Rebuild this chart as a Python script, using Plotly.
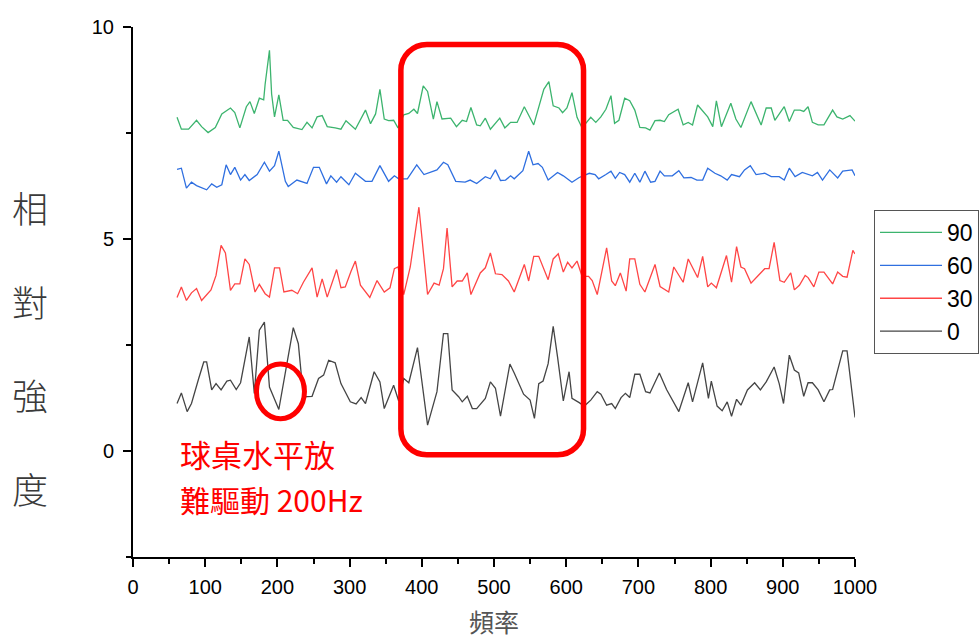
import plotly.graph_objects as go

# ---------------- data ----------------
series_names = ["90", "60", "30", "0"]

freq_90 = [61, 67, 77, 88, 95, 104, 114, 123, 135, 141, 148, 157, 162, 168, 175, 181, 183, 189, 192, 196,
           202, 208, 214, 222, 234, 241, 248, 255, 262, 269, 280, 288, 295, 308, 322, 329, 336, 342, 348, 354,
           361, 367, 375, 382, 389, 394, 402, 408, 416, 421, 428, 440, 448, 456, 462, 468, 476, 481, 488, 495,
           508, 515, 523, 532, 542, 555, 569, 576, 582, 590, 595, 601, 608, 615, 622, 634, 641, 648, 655, 662,
           667, 673, 681, 688, 695, 702, 710, 716, 723, 730, 736, 742, 755, 762, 769, 775, 782, 789, 796, 803,
           808, 815, 821, 828, 835, 842, 856, 870, 877, 884, 889, 902, 909, 916, 924, 929, 935, 941, 949, 957,
           969, 975, 983, 993, 1000]
int_90 = [7.87, 7.59, 7.59, 7.80, 7.65, 7.51, 7.63, 7.95, 8.09, 7.98, 7.62, 8.12, 8.24, 7.96, 8.32, 8.28, 8.65, 9.45, 8.42, 7.88,
          8.40, 7.80, 7.80, 7.63, 7.58, 7.75, 7.62, 7.88, 7.91, 7.65, 7.62, 7.59, 7.79, 7.59, 8.04, 7.72, 7.95, 8.53, 7.83, 7.79,
          7.80, 7.62, 7.93, 7.96, 8.06, 7.96, 8.61, 8.48, 7.83, 8.24, 7.83, 7.85, 7.65, 7.80, 7.77, 8.10, 7.69, 7.67, 7.85, 7.59,
          7.85, 7.62, 7.75, 7.75, 8.12, 7.69, 8.53, 8.71, 8.14, 8.09, 7.98, 8.09, 8.45, 7.87, 7.62, 7.87, 7.75, 7.88, 8.06, 8.38,
          7.73, 7.80, 8.32, 8.26, 8.04, 7.63, 7.62, 7.57, 7.79, 7.80, 7.77, 7.93, 8.06, 7.69, 7.75, 7.69, 8.16, 8.01, 7.88, 7.65,
          8.26, 7.65, 7.91, 8.20, 7.83, 7.63, 8.24, 7.69, 8.09, 8.09, 7.80, 8.12, 7.77, 8.04, 8.04, 8.01, 8.12, 7.75, 7.69, 7.69,
          8.04, 7.88, 7.83, 7.91, 7.78]

freq_60 = [61, 67, 74, 81, 88, 102, 109, 116, 123, 129, 135, 141, 149, 155, 161, 172, 182, 189, 196, 202,
           211, 215, 227, 241, 250, 258, 268, 274, 282, 288, 299, 308, 322, 331, 342, 354, 362, 368, 380, 393,
           403, 412, 421, 430, 436, 447, 460, 467, 476, 488, 495, 502, 509, 516, 523, 528, 540, 548, 554, 561,
           567, 575, 588, 596, 608, 618, 632, 640, 645, 655, 662, 668, 674, 681, 688, 695, 702, 709, 717, 723,
           730, 736, 747, 756, 763, 773, 781, 789, 796, 806, 814, 823, 829, 840, 847, 855, 863, 875, 884, 895,
           902, 909, 917, 927, 941, 948, 955, 965, 976, 983, 996, 1000]
int_60 = [6.64, 6.67, 6.20, 6.34, 6.26, 6.16, 6.30, 6.22, 6.28, 6.75, 6.52, 6.69, 6.39, 6.52, 6.38, 6.52, 6.81, 6.60, 6.73, 7.07,
          6.36, 6.24, 6.39, 6.31, 6.69, 6.69, 6.30, 6.49, 6.34, 6.47, 6.28, 6.55, 6.36, 6.36, 6.73, 6.36, 6.49, 6.42, 6.42, 6.75,
          6.52, 6.57, 6.63, 6.81, 6.75, 6.36, 6.34, 6.39, 6.31, 6.47, 6.42, 6.63, 6.38, 6.39, 6.49, 6.42, 6.61, 7.07, 6.75, 6.78,
          6.69, 6.39, 6.57, 6.49, 6.34, 6.45, 6.55, 6.52, 6.42, 6.52, 6.60, 6.43, 6.57, 6.52, 6.34, 6.55, 6.34, 6.60, 6.34, 6.36,
          6.60, 6.49, 6.49, 6.61, 6.44, 6.45, 6.39, 6.39, 6.67, 6.55, 6.49, 6.39, 6.52, 6.47, 6.63, 6.73, 6.52, 6.55, 6.47, 6.47,
          6.39, 6.67, 6.47, 6.57, 6.49, 6.57, 6.39, 6.63, 6.44, 6.60, 6.63, 6.49]

freq_30 = [61, 67, 74, 81, 88, 95, 108, 115, 122, 128, 135, 141, 148, 155, 161, 169, 175, 183, 189, 196,
           203, 209, 220, 228, 236, 248, 255, 262, 269, 282, 288, 294, 302, 308, 315, 328, 338, 348, 356, 362,
           367, 375, 384, 396, 408, 417, 424, 430, 435, 442, 449, 456, 463, 468, 481, 488, 495, 502, 511, 520,
           528, 542, 548, 555, 562, 575, 582, 589, 596, 602, 608, 615, 622, 631, 636, 643, 656, 663, 668, 675,
           683, 688, 695, 702, 709, 723, 730, 742, 749, 762, 769, 782, 789, 796, 801, 808, 822, 829, 836, 842,
           847, 856, 866, 875, 881, 888, 896, 902, 911, 916, 923, 931, 935, 943, 950, 957, 969, 976, 983, 989,
           997, 1000]
int_30 = [3.62, 3.87, 3.55, 3.73, 3.83, 3.55, 3.80, 4.14, 4.85, 4.67, 3.79, 3.94, 3.94, 4.53, 4.40, 3.75, 3.93, 3.71, 3.63, 4.32,
          4.32, 3.75, 3.79, 3.71, 3.98, 4.32, 3.63, 4.06, 3.63, 4.28, 3.85, 3.87, 4.24, 4.48, 3.91, 3.62, 4.02, 3.75, 3.85, 4.30,
          4.34, 3.69, 4.34, 5.75, 3.69, 3.96, 3.91, 4.30, 5.26, 3.87, 4.01, 4.01, 4.20, 3.69, 4.20, 4.32, 4.67, 4.18, 4.16, 4.01,
          3.75, 4.40, 4.01, 4.59, 4.59, 4.04, 4.53, 4.65, 4.22, 4.45, 4.32, 4.48, 4.12, 4.12, 4.02, 3.69, 4.79, 4.01, 3.90, 4.20,
          3.77, 4.53, 4.53, 3.93, 3.75, 4.40, 3.88, 3.75, 4.34, 3.98, 4.53, 4.09, 4.59, 3.87, 3.96, 3.85, 4.61, 3.98, 4.82, 4.34,
          4.30, 3.96, 4.14, 4.30, 4.30, 4.92, 4.02, 3.98, 4.20, 3.80, 3.91, 4.14, 4.09, 3.87, 4.22, 4.22, 3.94, 4.22, 4.12, 4.10,
          4.73, 4.65]

freq_0 = [61, 67, 75, 81, 91, 98, 102, 109, 115, 122, 130, 135, 143, 149, 161, 168, 175, 182, 189, 202,
          222, 229, 236, 248, 257, 264, 271, 280, 288, 301, 309, 316, 322, 334, 342, 348, 361, 368, 375, 382,
          394, 408, 421, 430, 436, 442, 451, 456, 463, 470, 476, 488, 495, 502, 509, 522, 528, 541, 550, 556,
          562, 568, 575, 582, 588, 596, 604, 608, 618, 625, 634, 643, 648, 656, 663, 668, 676, 682, 688, 695,
          702, 710, 716, 729, 739, 756, 769, 775, 789, 797, 801, 809, 816, 823, 829, 836, 842, 851, 861, 869,
          877, 888, 895, 901, 909, 916, 922, 929, 935, 941, 949, 957, 965, 969, 983, 989, 1000]
int_0 = [1.12, 1.37, 0.93, 1.12, 1.71, 2.10, 2.10, 1.44, 1.59, 1.44, 1.65, 1.67, 1.45, 1.61, 2.69, 1.36, 2.85, 3.04, 1.51, 0.98,
         2.91, 2.53, 1.28, 1.29, 1.71, 1.79, 2.14, 2.08, 1.59, 1.16, 1.11, 1.26, 1.12, 1.87, 1.63, 1.00, 1.55, 1.18, 1.71, 1.61,
         2.44, 0.61, 1.40, 2.77, 2.77, 1.44, 1.28, 1.16, 1.29, 1.00, 1.00, 1.24, 1.63, 1.48, 0.82, 2.05, 1.84, 1.34, 1.20, 0.77,
         1.59, 1.65, 2.06, 2.94, 2.22, 1.18, 1.87, 1.24, 1.14, 1.06, 1.20, 1.40, 1.34, 1.08, 1.12, 1.00, 1.26, 1.36, 1.26, 1.81,
         1.81, 1.40, 1.37, 1.84, 1.45, 0.93, 1.61, 1.16, 2.08, 1.24, 1.65, 1.06, 0.95, 1.16, 0.82, 1.22, 1.08, 1.44, 1.61, 1.44,
         1.63, 1.98, 1.59, 1.12, 2.26, 1.91, 1.84, 1.29, 1.61, 1.61, 1.44, 1.16, 1.44, 1.45, 2.36, 2.36, 0.79]

x_ticks = [0, 100, 200, 300, 400, 500, 600, 700, 800, 900, 1000]
y_ticks = [0, 5, 10]

annot_line1 = "球桌水平放"
annot_line2 = "難驅動 200Hz"
x_title = "頻率"
y_title = "相對強度"

# ---------------- style ----------------
colors = {"90": "#3cb46e", "60": "#2f6fe0", "30": "#ff4545", "0": "#454545"}
series = {"90": (freq_90, int_90), "60": (freq_60, int_60),
          "30": (freq_30, int_30), "0": (freq_0, int_0)}

W, H = 979, 639
M_L, M_R, M_T, M_B = 133, 124, 27, 82
X_RANGE = [0, 1000]
Y_RANGE = [-2.5, 10]
BASE_FONT = "Liberation Sans, Arial, sans-serif"
CJK_FONT = "Noto Sans CJK TC, Noto Sans CJK SC, sans-serif"

fig = go.Figure()
for name in series_names:
    fx, fy = series[name]
    fig.add_trace(go.Scatter(
        x=fx, y=fy, mode="lines", name=name, legendgroup=name,
        line=dict(color=colors[name], width=1.3),
    ))

# rounded rectangle highlight (data coords)
rx0, rx1, ry0, ry1 = 371, 624, -0.09, 9.59
cr_x, cr_y = 36, 0.61
k = 0.4477  # 1 - kappa
rect_path = (
    f"M {rx0 + cr_x},{ry1} L {rx1 - cr_x},{ry1} "
    f"C {rx1 - cr_x * k},{ry1} {rx1},{ry1 - cr_y * k} {rx1},{ry1 - cr_y} "
    f"L {rx1},{ry0 + cr_y} "
    f"C {rx1},{ry0 + cr_y * k} {rx1 - cr_x * k},{ry0} {rx1 - cr_x},{ry0} "
    f"L {rx0 + cr_x},{ry0} "
    f"C {rx0 + cr_x * k},{ry0} {rx0},{ry0 + cr_y * k} {rx0},{ry0 + cr_y} "
    f"L {rx0},{ry1 - cr_y} "
    f"C {rx0},{ry1 - cr_y * k} {rx0 + cr_x * k},{ry1} {rx0 + cr_x},{ry1} Z"
)
fig.add_shape(type="path", path=rect_path, xref="x", yref="y",
              line=dict(color="#ff0000", width=5.5))
fig.add_shape(type="circle", xref="x", yref="y", x0=171, x1=237.5, y0=0.76, y1=2.05,
              line=dict(color="#ff0000", width=5))

fig.add_annotation(x=63, y=-0.05, xref="x", yref="y", text=annot_line1, showarrow=False,
                   xanchor="left", yanchor="middle",
                   font=dict(family=CJK_FONT, size=31, color="#ff0000"))
fig.add_annotation(x=63, y=-1.13, xref="x", yref="y", text=annot_line2, showarrow=False,
                   xanchor="left", yanchor="middle",
                   font=dict(family=CJK_FONT, size=30, color="#ff0000"))

# vertical y-axis title, one character per line
fig.add_annotation(x=(30 - M_L) / (W - M_L - M_R), y=(H - M_B - 347) / (H - M_T - M_B),
                   xref="paper", yref="paper", showarrow=False,
                   xanchor="center", yanchor="middle",
                   text="<br><br>".join(list(y_title)),
                   font=dict(family=CJK_FONT, size=36, color="#3a3a3a", weight=300))

fig.update_layout(
    width=W, height=H,
    margin=dict(l=M_L, r=M_R, t=M_T, b=M_B, autoexpand=False),
    paper_bgcolor="white", plot_bgcolor="white",
    font=dict(family=BASE_FONT, color="#000000"),
    showlegend=True,
    legend=dict(
        x=(874 - M_L) / (W - M_L - M_R), y=(H - M_B - 210) / (H - M_T - M_B),
        xanchor="left", yanchor="top",
        bordercolor="#555555", borderwidth=1, bgcolor="white",
        font=dict(family=BASE_FONT, size=23, color="#000000"),
        itemwidth=62, tracegroupgap=3, traceorder="normal",
    ),
    xaxis=dict(
        range=X_RANGE, tickvals=x_ticks, ticktext=[str(v) for v in x_ticks],
        showline=True, linecolor="black", linewidth=2, mirror=False,
        ticks="outside", ticklen=8, tickwidth=2, tickcolor="black",
        minor=dict(dtick=50, ticks="outside", ticklen=5, tickwidth=2, tickcolor="black"),
        showgrid=False, zeroline=False,
        tickfont=dict(family=BASE_FONT, size=20, color="black"),
        ticklabelstandoff=3,
        title=dict(text=x_title, font=dict(family=CJK_FONT, size=25, color="#555555"), standoff=20),
    ),
    yaxis=dict(
        range=Y_RANGE, tickvals=y_ticks, ticktext=[str(v) for v in y_ticks],
        showline=True, linecolor="black", linewidth=2, mirror=False,
        ticks="outside", ticklen=8, tickwidth=2, tickcolor="black",
        minor=dict(tickvals=[-2.5, 2.5, 7.5], ticks="outside", ticklen=5, tickwidth=2, tickcolor="black"),
        showgrid=False, zeroline=False,
        tickfont=dict(family=BASE_FONT, size=20, color="black"),
        ticklabelstandoff=5,
    ),
)

fig.write_html("out.html")
